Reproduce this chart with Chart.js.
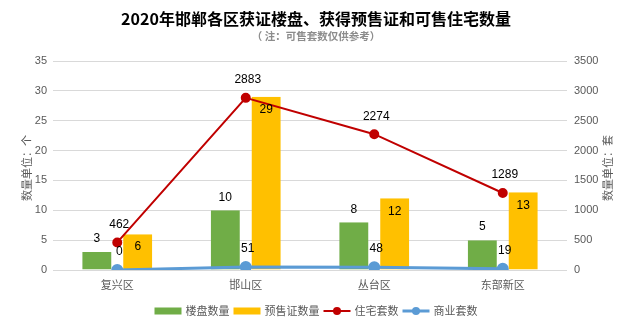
<!DOCTYPE html>
<html>
<head>
<meta charset="utf-8">
<script src="https://cdn.jsdelivr.net/npm/chart.js@4"></script>
<style>
  html, body { margin: 0; padding: 0; background: #fff; }
  #wrap { width: 633px; height: 330px; }
</style>
</head>
<body>
<div id="wrap"><canvas id="chart"></canvas></div>
<script>
const districts = ['复兴区', '邯山区', '丛台区', '东部新区'];
const projects = [3, 10, 8, 5];          // 楼盘数量
const presaleCerts = [6, 29, 12, 13];    // 预售证数量
const homeUnits = [462, 2883, 2274, 1289]; // 住宅套数
const shopUnits = [0, 51, 48, 19];       // 商业套数
const leftAxis = { max: 35, step: 5 };
const rightAxis = { max: 3500, step: 500 };

const FONT = '"Liberation Sans", "Noto Sans CJK SC", sans-serif';
const CJK = '"Noto Sans CJK SC", sans-serif';
const GAP = 6; // transparent inner border to split the bar pair

const decor = {
  id: 'decor',
  afterDraw(chart) {
    const ctx = chart.ctx;
    ctx.save();

    // title + subtitle
    ctx.textAlign = 'center';
    ctx.textBaseline = 'middle';
    ctx.fillStyle = '#000';
    ctx.font = 'bold 16px ' + CJK;
    ctx.fillText('2020年邯郸各区获证楼盘、获得预售证和可售住宅数量', 316, 19);
    ctx.fillStyle = '#8c8c8c';
    ctx.font = 'bold 10.5px ' + CJK;
    ctx.fillText('（ 注：可售套数仅供参考）', 316, 36);

    // axis titles, both read bottom to top
    ctx.fillStyle = '#595959';
    ctx.font = '11px ' + CJK;
    [[27, '数量单位：个'], [608, '数量单位：套']].forEach(([x, t]) => {
      ctx.save();
      ctx.translate(x, 168);
      ctx.rotate(-Math.PI / 2);
      ctx.fillText(t, 0, 0);
      ctx.restore();
    });

    // value labels
    ctx.fillStyle = '#000';
    ctx.font = '12px ' + FONT;
    chart.data.datasets.forEach((ds, i) => {
      const meta = chart.getDatasetMeta(i);
      meta.data.forEach((el, j) => {
        const v = ds.data[j];
        if (i === 0) ctx.fillText(v, el.x - GAP / 2, el.y - 13);
        else if (i === 1) ctx.fillText(v, el.x + GAP / 2, el.y + 13);
        else ctx.fillText(v, el.x + 2, el.y - 18);
      });
    });

    // legend
    ctx.font = '11px ' + CJK;
    ctx.textAlign = 'left';
    const items = chart.data.datasets.map(ds => ({ ds, w: 27 + 4 + ctx.measureText(ds.label).width }));
    const total = items.reduce((s, it) => s + it.w, 0) + 4 * (items.length - 1);
    let x = 316 - total / 2;
    const y = 311;
    items.forEach(({ ds, w }) => {
      if (ds.type === 'bar') {
        ctx.fillStyle = ds.backgroundColor;
        ctx.fillRect(x, y - 3.5, 27, 7);
      } else {
        ctx.strokeStyle = ds.borderColor;
        ctx.lineWidth = ds.borderWidth;
        ctx.beginPath();
        ctx.moveTo(x, y);
        ctx.lineTo(x + 27, y);
        ctx.stroke();
        ctx.fillStyle = ds.pointBackgroundColor;
        ctx.beginPath();
        ctx.arc(x + 13.5, y, 4, 0, Math.PI * 2);
        ctx.fill();
      }
      ctx.fillStyle = '#595959';
      ctx.fillText(ds.label, x + 31, y);
      x += w + 4;
    });
    ctx.restore();
  }
};

new Chart(document.getElementById('chart'), {
  data: {
    labels: districts,
    datasets: [
      {
        type: 'bar', label: '楼盘数量', data: projects, yAxisID: 'y', order: 2,
        backgroundColor: '#70AD47', borderColor: 'rgba(0,0,0,0)',
        borderWidth: { left: 0, right: GAP, top: 0, bottom: 0 },
        categoryPercentage: 0.545, barPercentage: 1
      },
      {
        type: 'bar', label: '预售证数量', data: presaleCerts, yAxisID: 'y', order: 2,
        backgroundColor: '#FFC000', borderColor: 'rgba(0,0,0,0)',
        borderWidth: { left: GAP, right: 0, top: 0, bottom: 0 },
        categoryPercentage: 0.545, barPercentage: 1
      },
      {
        type: 'line', label: '住宅套数', data: homeUnits, yAxisID: 'y1', order: 0,
        borderColor: '#C00000', borderWidth: 2, tension: 0,
        pointBackgroundColor: '#C00000', pointBorderColor: '#C00000', pointRadius: 4
      },
      {
        type: 'line', label: '商业套数', data: shopUnits, yAxisID: 'y1', order: 1,
        borderColor: '#5B9BD5', borderWidth: 3, tension: 0,
        pointBackgroundColor: '#5B9BD5', pointBorderColor: '#5B9BD5', pointRadius: 4.5
      }
    ]
  },
  options: {
    responsive: true,
    maintainAspectRatio: false,
    animation: false,
    layout: { padding: { top: 61, bottom: 30, left: 0, right: 0 } },
    plugins: {
      legend: { display: false },
      tooltip: { enabled: false }
    },
    scales: {
      x: {
        grid: { display: false, drawTicks: false },
        border: { display: false },
        ticks: { color: '#595959', font: { size: 11, family: CJK }, padding: 8 },
        afterFit: s => { s.height = 30; }
      },
      y: {
        position: 'left', min: 0, max: leftAxis.max,
        ticks: { stepSize: leftAxis.step, color: '#595959', font: { size: 11, family: FONT }, padding: 6, callback: v => String(v) },
        grid: { color: '#d9d9d9', drawTicks: false },
        border: { display: false },
        afterFit: s => { s.width = 53; }
      },
      y1: {
        position: 'right', min: 0, max: rightAxis.max,
        ticks: { stepSize: rightAxis.step, color: '#595959', font: { size: 11, family: FONT }, padding: 7, callback: v => String(v) },
        grid: { display: false, drawTicks: false },
        border: { display: false },
        afterFit: s => { s.width = 66; }
      }
    }
  },
  plugins: [decor]
});
</script>
</body>
</html>
